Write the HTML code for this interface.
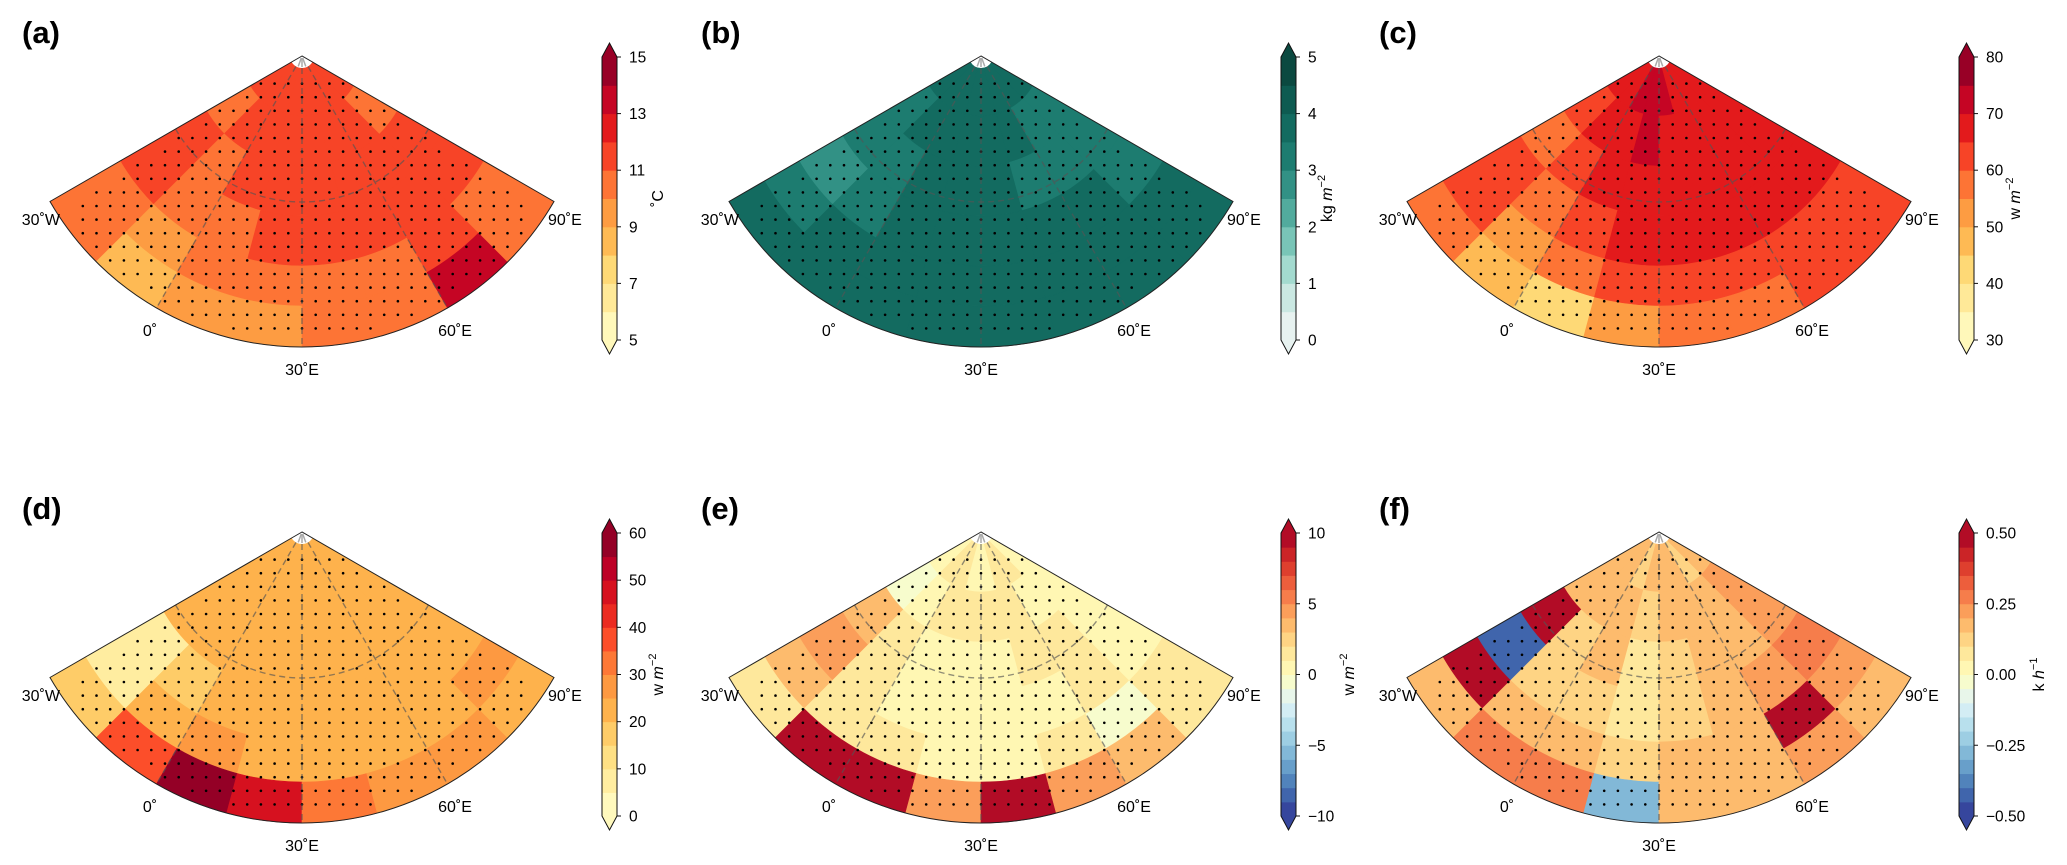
<!DOCTYPE html>
<html><head><meta charset="utf-8"><style>
html,body{margin:0;padding:0;background:#fff;}
svg{display:block;font-family:"Liberation Sans",sans-serif;}
</style></head><body>
<svg id="fig" width="2067" height="865" viewBox="0 0 2067 865" xmlns="http://www.w3.org/2000/svg"></svg>
<script>
// ---- data (rows: radial bands from pole outward; cols: longitude sectors 30W -> 90E) ----
const bandEdges = [12, 60, 110, 160, 210, 250, 291];
const panelA = [
 [11.5,11.5,11.5,11.5,11.5,11.5,11.5,11.5],
 [10.5,11.5,11.5,11.5,11.5,11.5,11.5,10.5],
 [11.5,10.5,11.5,11.5,11.5,11.5,11.5,11.5],
 [11.5,10.5,10.5,11.5,11.5,11.5,11.5,11.5],
 [10.5,9.5,10.5,10.5,10.5,10.5,11.5,10.5],
 [10.5,8.5,9.5,9.5,10.5,10.5,13.5,10.5]];
const panelB = [
 [3.75,3.75,3.75,3.75,3.75,3.75,3.75,3.75],
 [3.25,3.75,3.75,3.75,3.75,3.75,3.25,3.25],
 [3.25,3.25,3.75,3.75,3.75,3.25,3.25,3.25],
 [2.75,3.25,3.75,3.75,3.75,3.75,3.75,3.25],
 [3.25,3.75,3.75,3.75,3.75,3.75,3.75,3.75],
 [3.75,3.75,3.75,3.75,3.75,3.75,3.75,3.75]];
const panelC = [
 [67,67,72,72,72,67,67,67],
 [62,67,67,72,67,67,67,67],
 [57,62,67,67,67,67,67,67],
 [62,57,62,67,67,67,67,67],
 [62,52,57,62,62,62,62,62],
 [57,47,42,52,57,57,62,62]];
const panelD = [
 [22,22,22,22,22,22,22,22],
 [22,22,22,22,22,22,22,22],
 [22,22,22,22,22,22,22,22],
 [7,17,22,22,22,22,22,22],
 [7,22,27,22,22,22,22,27],
 [17,37,57,47,32,27,27,22]];
const panelE = [
 [0.5,1.5,1.5,0.5,0.5,1.5,1.5,0.5],
 [-0.5,0.5,1.5,1.5,1.5,1.5,0.5,0.5],
 [3.5,1.5,0.5,0.5,0.5,1.5,1.5,0.5],
 [4.5,1.5,0.5,0.5,0.5,0.5,1.5,0.5],
 [3.5,1.5,1.5,0.5,0.5,1.5,-0.5,1.5],
 [1.5,9.5,9.5,4.5,9.5,4.5,3.5,1.5]];
const panelF = [
 [0.17,0.17,0.12,0.17,0.17,0.17,0.12,0.17],
 [0.17,0.17,0.17,0.12,0.17,0.17,0.17,0.22],
 [0.5,0.12,0.17,0.07,0.12,0.17,0.17,0.22],
 [-0.4,0.12,0.12,0.07,0.12,0.17,0.22,0.27],
 [0.5,0.17,0.17,0.12,0.17,0.17,0.5,0.22],
 [0.17,0.27,0.27,-0.3,0.17,0.17,0.22,0.17]];
const ticksA = ["5","7","9","11","13","15"];
const ticksB = ["0","1","2","3","4","5"];
const ticksC = ["30","40","50","60","70","80"];
const ticksD = ["0","10","20","30","40","50","60"];
const ticksE = ["\u221210","\u22125","0","5","10"];
const ticksF = ["\u22120.50","\u22120.25","0.00","0.25","0.50"];

const YlOrRd = ["#ffffcc","#ffeda0","#fed976","#feb24c","#fd8d3c","#fc4e2a","#e31a1c","#bd0026","#800026"];
const Teal = ["#f3f6f6","#d4ece7","#a3dacf","#6fc0b1","#3f9d90","#1f8074","#136b60","#0d574d","#0a3f37"];
const RdYlBu = ["#313695","#4575b4","#74add1","#abd9e9","#e0f3f8","#ffffbf","#fee090","#fdae61","#f46d43","#d73027","#a50026"];

const NS="http://www.w3.org/2000/svg";
const svg=document.getElementById('fig');
function el(tag,attrs,parent){const e=document.createElementNS(NS,tag);for(const k in attrs)e.setAttribute(k,attrs[k]);(parent||svg).appendChild(e);return e;}
function hex(h){return [parseInt(h.slice(1,3),16),parseInt(h.slice(3,5),16),parseInt(h.slice(5,7),16)];}
function cmap(stops,t){t=Math.max(0,Math.min(1,t));const p=t*(stops.length-1);const i=Math.min(stops.length-2,Math.floor(p));const f=p-i;const a=hex(stops[i]),b=hex(stops[i+1]);return 'rgb('+a.map((v,k)=>Math.round(v+(b[k]-v)*f)).join(',')+')';}
function levelColor(cfg,v){const n=cfg.n;let idx=Math.floor((v-cfg.min)/(cfg.max-cfg.min)*n);idx=Math.max(0,Math.min(n-1,idx));return cmap(cfg.stops,(idx+0.5)/n);}
function pt(ax,ay,r,t){const a=t*Math.PI/180;return [ax+r*Math.sin(a),ay+r*Math.cos(a)];}
function sector(ax,ay,r0,r1,t0,t1){const a=pt(ax,ay,r0,t0),b=pt(ax,ay,r1,t0),c=pt(ax,ay,r1,t1),d=pt(ax,ay,r0,t1);
 return `M${a[0]},${a[1]}L${b[0]},${b[1]}A${r1},${r1} 0 0 0 ${c[0]},${c[1]}L${d[0]},${d[1]}A${r0},${r0} 0 0 1 ${a[0]},${a[1]}Z`;}

const panels=[
 {id:'a',ax:302,ay:56,data:panelA,min:5,max:15,n:10,stops:YlOrRd,ticks:ticksA,unit:'degc'},
 {id:'b',ax:981,ay:56,data:panelB,min:0,max:5,n:10,stops:Teal,ticks:ticksB,unit:'kg'},
 {id:'c',ax:1659,ay:56,data:panelC,min:30,max:80,n:10,stops:YlOrRd,ticks:ticksC,unit:'w'},
 {id:'d',ax:302,ay:532,data:panelD,min:0,max:60,n:12,stops:YlOrRd,ticks:ticksD,unit:'w'},
 {id:'e',ax:981,ay:532,data:panelE,min:-10,max:10,n:20,stops:RdYlBu,ticks:ticksE,unit:'w'},
 {id:'f',ax:1659,ay:532,data:panelF,min:-0.5,max:0.5,n:20,stops:RdYlBu,ticks:ticksF,unit:'kh'}];

panels.forEach(P=>{
 const g=el('g',{});
 
 
 const lab=el('text',{x:P.ax-280,y:P.ay-13,'font-size':31,'font-weight':'bold'},g);
 lab.textContent='('+P.id+')';
 
 
 const map=el('g',{},g);
 
 
 const nr=P.data.length,nc=P.data[0].length;
 for(let i=0;i<nr;i++)for(let j=0;j<nc;j++){
  const t0=-60+120*j/nc,t1=-60+120*(j+1)/nc;
  const col=levelColor(P,P.data[i][j]);
  const c=el('path',{d:sector(P.ax,P.ay,bandEdges[i],bandEdges[i+1],t0,t1),fill:col,stroke:col,'stroke-width':0.6},map);
  
  
 }
 const dots=el('g',{fill:'#000'},g);
 
 
 for(let y=P.ay+14;y<P.ay+290;y+=13.6){for(let k=-21;k<=21;k++){const x=P.ax+k*13.7;const dx=x-P.ax,dy=y-P.ay;const r=Math.hypot(dx,dy);const th=Math.atan2(dx,dy)*180/Math.PI;
  if(r>22&&r<284&&Math.abs(th)<57){el('circle',{cx:x,cy:y,r:1.3},dots);}}}
 const grid=el('g',{stroke:'#555','stroke-opacity':0.65,'stroke-width':1.4,'stroke-dasharray':'6,4',fill:'none'},g);
 
 
 [-30,0,30].forEach(t=>{const a=pt(P.ax,P.ay,12,t),b=pt(P.ax,P.ay,291,t);el('line',{x1:a[0],y1:a[1],x2:b[0],y2:b[1]},grid);});
 {const a=pt(P.ax,P.ay,146,-60),b=pt(P.ax,P.ay,146,60);el('path',{d:`M${a[0]},${a[1]}A146,146 0 0 0 ${b[0]},${b[1]}`},grid);}
 el('path',{d:sector(P.ax,P.ay,0.1,12,-60,60),fill:'#fff',stroke:'none'},g);
 [-20,0,20].forEach(t=>{const a=pt(P.ax,P.ay,2,t),b=pt(P.ax,P.ay,11,t);el('line',{x1:a[0],y1:a[1],x2:b[0],y2:b[1],stroke:'#aaa','stroke-width':1.5},g);});
 const L=pt(P.ax,P.ay,291,-60),R=pt(P.ax,P.ay,291,60);
 const ol=el('path',{d:`M${P.ax},${P.ay}L${L[0]},${L[1]}A291,291 0 0 0 ${R[0]},${R[1]}Z`,fill:'none',stroke:'#222','stroke-width':1},g);
 
 
 const lons=[['30\u02DAW',P.ax-242,P.ay+169,'end'],['90\u02DAE',P.ax+246,P.ay+169,'start'],['0\u02DA',P.ax-152,P.ay+280,'middle'],['60\u02DAE',P.ax+153,P.ay+280,'middle'],['30\u02DAE',P.ax,P.ay+319,'middle']];
 lons.forEach(l=>{const t=el('text',{x:l[1],y:l[2],'font-size':16,'text-anchor':l[3]},g);t.textContent=l[0];
  
  });
 const cx=P.ax+300,top=P.ay+1,bot=P.ay+284,w=15;
 const cb=el('g',{},g);
 
 
 const h=(bot-top)/P.n;
 for(let k=0;k<P.n;k++){const v=P.min+(k+0.5)*(P.max-P.min)/P.n;const col=levelColor(P,v);
  const r=el('rect',{x:cx,y:bot-(k+1)*h,width:w,height:h+0.5,fill:col},cb);
  
  }
 el('path',{d:`M${cx},${top}L${cx+w/2},${top-14}L${cx+w},${top}Z`,fill:levelColor(P,P.max)},cb);
 el('path',{d:`M${cx},${bot}L${cx+w/2},${bot+14}L${cx+w},${bot}Z`,fill:levelColor(P,P.min)},cb);
 el('path',{d:`M${cx},${top}L${cx+w/2},${top-14}L${cx+w},${top}L${cx+w},${bot}L${cx+w/2},${bot+14}L${cx},${bot}Z`,fill:'none',stroke:'#111','stroke-width':1},cb);
 const nt=P.ticks.length;
 P.ticks.forEach((tk,k)=>{const y=bot-k*(bot-top)/(nt-1);el('line',{x1:cx+w,y1:y,x2:cx+w+4,y2:y,stroke:'#111'},cb);
  const t=el('text',{x:cx+w+12,y:y+5.5,'font-size':15.5},cb);t.textContent=tk;
  
  });
 const maxw={a:20,b:10,c:20,d:20,e:32,f:44}[P.id];
 const ux=cx+w+12+maxw+14,uy=(top+bot)/2;
 const u=el('text',{x:ux,y:uy,'font-size':16,'text-anchor':'middle',transform:`rotate(-90 ${ux} ${uy})`},cb);
 
 
 if(P.unit==='degc'){u.textContent='\u02DAC';}
 else{const base=P.unit==='kg'?'kg ':(P.unit==='w'?'w ':'k ');const sym=P.unit==='kh'?'h':'m';const sup=P.unit==='kh'?'\u22121':'\u22122';
  u.appendChild(document.createTextNode(base));
  const s1=el('tspan',{'font-style':'italic'},u);s1.textContent=sym;
  const s2=el('tspan',{dy:-7,'font-size':11},u);s2.textContent=sup;}
});
</script>
</body></html>
